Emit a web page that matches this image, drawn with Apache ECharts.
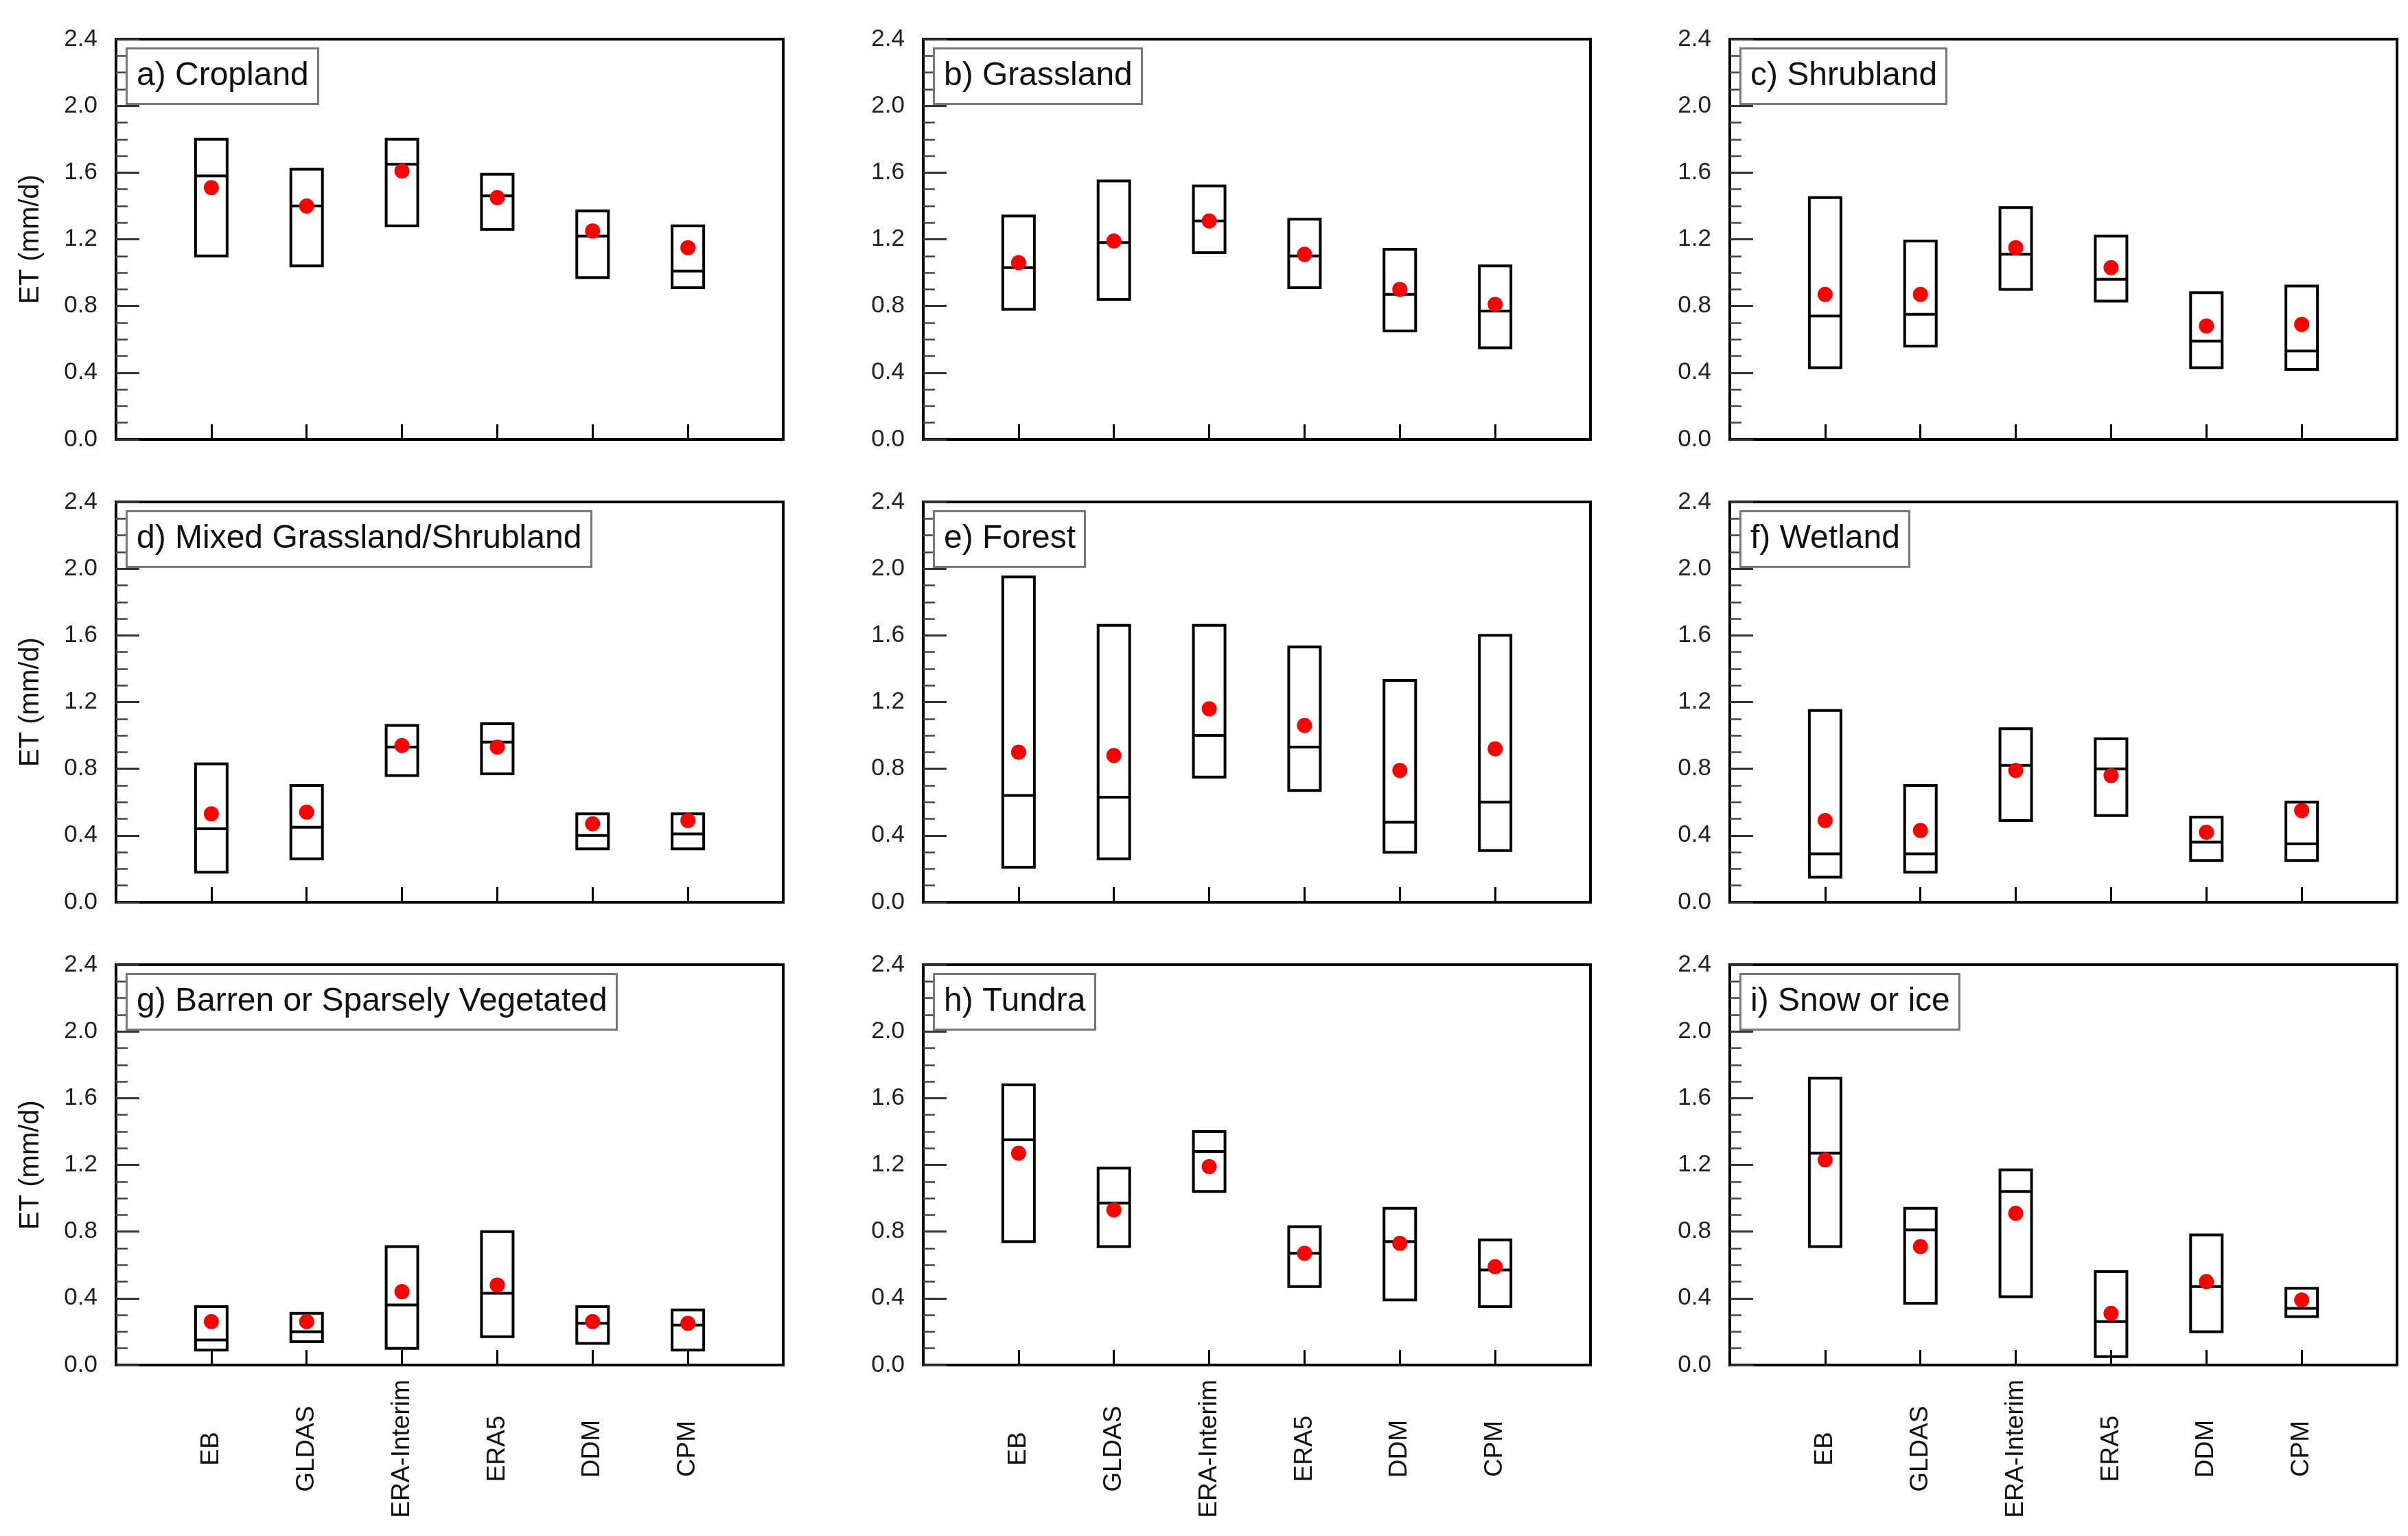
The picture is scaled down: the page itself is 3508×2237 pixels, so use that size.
<!DOCTYPE html>
<html>
<head>
<meta charset="utf-8">
<script src="https://cdn.jsdelivr.net/npm/echarts@6/dist/echarts.min.js"></script>
<style>
html,body{margin:0;padding:0;background:#fff;}
#chart{width:3508px;height:2237px;}
</style>
</head>
<body>
<div id="chart"></div>
<script>
// ---- Data ----
const categories = ['EB', 'GLDAS', 'ERA-Interim', 'ERA5', 'DDM', 'CPM'];
const panelTitles = ['a) Cropland', 'b) Grassland', 'c) Shrubland',
  'd) Mixed Grassland/Shrubland', 'e) Forest', 'f) Wetland',
  'g) Barren or Sparsely Vegetated', 'h) Tundra', 'i) Snow or ice'];
const yTicks = [0.0, 0.4, 0.8, 1.2, 1.6, 2.0, 2.4];

const croplandMax  = [1.80, 1.62, 1.80, 1.59, 1.37, 1.28];
const croplandMed  = [1.58, 1.40, 1.65, 1.46, 1.22, 1.01];
const croplandMin  = [1.10, 1.04, 1.28, 1.26, 0.97, 0.91];
const croplandMean = [1.51, 1.40, 1.61, 1.45, 1.25, 1.15];

const grasslandMax  = [1.34, 1.55, 1.52, 1.32, 1.14, 1.04];
const grasslandMed  = [1.03, 1.18, 1.31, 1.10, 0.87, 0.77];
const grasslandMin  = [0.78, 0.84, 1.12, 0.91, 0.65, 0.55];
const grasslandMean = [1.06, 1.19, 1.31, 1.11, 0.90, 0.81];

const shrublandMax  = [1.45, 1.19, 1.39, 1.22, 0.88, 0.92];
const shrublandMed  = [0.74, 0.75, 1.11, 0.96, 0.59, 0.53];
const shrublandMin  = [0.43, 0.56, 0.90, 0.83, 0.43, 0.42];
const shrublandMean = [0.87, 0.87, 1.15, 1.03, 0.68, 0.69];

const mixedMax  = [0.83, 0.70, 1.06, 1.07, 0.53, 0.53];
const mixedMed  = [0.44, 0.45, 0.93, 0.96, 0.40, 0.41];
const mixedMin  = [0.18, 0.26, 0.76, 0.77, 0.32, 0.32];
const mixedMean = [0.53, 0.54, 0.94, 0.93, 0.47, 0.49];

const forestMax  = [1.95, 1.66, 1.66, 1.53, 1.33, 1.60];
const forestMed  = [0.64, 0.63, 1.00, 0.93, 0.48, 0.60];
const forestMin  = [0.21, 0.26, 0.75, 0.67, 0.30, 0.31];
const forestMean = [0.90, 0.88, 1.16, 1.06, 0.79, 0.92];

const wetlandMax  = [1.15, 0.70, 1.04, 0.98, 0.51, 0.60];
const wetlandMed  = [0.29, 0.29, 0.82, 0.80, 0.36, 0.35];
const wetlandMin  = [0.15, 0.18, 0.49, 0.52, 0.25, 0.25];
const wetlandMean = [0.49, 0.43, 0.79, 0.76, 0.42, 0.55];

const barrenMax  = [0.35, 0.31, 0.71, 0.80, 0.35, 0.33];
const barrenMed  = [0.15, 0.20, 0.36, 0.43, 0.25, 0.24];
const barrenMin  = [0.09, 0.14, 0.10, 0.17, 0.13, 0.09];
const barrenMean = [0.26, 0.26, 0.44, 0.48, 0.26, 0.25];

const tundraMax  = [1.68, 1.18, 1.40, 0.83, 0.94, 0.75];
const tundraMed  = [1.35, 0.97, 1.28, 0.67, 0.74, 0.57];
const tundraMin  = [0.74, 0.71, 1.04, 0.47, 0.39, 0.35];
const tundraMean = [1.27, 0.93, 1.19, 0.67, 0.73, 0.59];

const snowMax  = [1.72, 0.94, 1.17, 0.56, 0.78, 0.46];
const snowMed  = [1.27, 0.81, 1.04, 0.26, 0.47, 0.34];
const snowMin  = [0.71, 0.37, 0.41, 0.05, 0.20, 0.29];
const snowMean = [1.23, 0.71, 0.91, 0.31, 0.50, 0.39];

const panels = [
  [croplandMin, croplandMed, croplandMax, croplandMean],
  [grasslandMin, grasslandMed, grasslandMax, grasslandMean],
  [shrublandMin, shrublandMed, shrublandMax, shrublandMean],
  [mixedMin, mixedMed, mixedMax, mixedMean],
  [forestMin, forestMed, forestMax, forestMean],
  [wetlandMin, wetlandMed, wetlandMax, wetlandMean],
  [barrenMin, barrenMed, barrenMax, barrenMean],
  [tundraMin, tundraMed, tundraMax, tundraMean],
  [snowMin, snowMed, snowMax, snowMean]
];

// ---- Layout ----
const colLefts = [169, 1345, 2520];
const rowTops = [57, 731, 1405];
const gridW = 972, gridH = 583;
const FONT = 'Liberation Sans, Arial, Helvetica, sans-serif';

const grids = [], xAxes = [], yAxes = [], series = [], titles = [], graphics = [];

function renderBox(params, api) {
  const x = api.value(0), lo = api.value(1), med = api.value(2), hi = api.value(3);
  const pLo = api.coord([x, lo]);
  const pHi = api.coord([x, hi]);
  const pMed = api.coord([x, med]);
  const hw = 23;
  return {
    type: 'group',
    children: [
      { type: 'rect', shape: { x: pLo[0] - hw, y: pHi[1], width: 2 * hw, height: pLo[1] - pHi[1] },
        style: { fill: 'rgba(0,0,0,0)', stroke: '#000', lineWidth: 4 } },
      { type: 'line', shape: { x1: pMed[0] - hw, y1: pMed[1], x2: pMed[0] + hw, y2: pMed[1] },
        style: { stroke: '#000', lineWidth: 4 } }
    ]
  };
}

for (let i = 0; i < 9; i++) {
  const r = Math.floor(i / 3), c = i % 3;
  const left = colLefts[c], top = rowTops[r];
  grids.push({ left: left, top: top, width: gridW, height: gridH, show: true,
    borderColor: '#000', borderWidth: 4, backgroundColor: 'rgba(0,0,0,0)' });
  xAxes.push({
    gridIndex: i, type: 'value', min: 0, max: 7, interval: 1,
    axisLine: { show: true, lineStyle: { color: '#000', width: 4 } },
    axisTick: { show: true, inside: true, length: 22, lineStyle: { color: '#000', width: 3 } },
    splitLine: { show: false },
    axisLabel: {
      show: r === 2, rotate: 90, align: 'center', verticalAlign: 'middle', margin: 122,
      fontSize: 37, fontFamily: FONT, color: '#111',
      formatter: function (v) { return categories[v - 1] || ''; }
    }
  });
  yAxes.push({
    gridIndex: i, type: 'value', min: 0, max: 2.4, interval: 0.4,
    axisLine: { show: true, lineStyle: { color: '#000', width: 4 } },
    axisTick: { show: true, inside: true, length: 34, lineStyle: { color: '#333', width: 3 } },
    minorTick: { show: true, splitNumber: 4, length: 17, lineStyle: { color: '#444', width: 2.5 } },
    splitLine: { show: false },
    minorSplitLine: { show: false },
    axisLabel: { fontSize: 35, fontFamily: FONT, color: '#222', margin: 27,
      formatter: function (v) { return v.toFixed(1); } }
  });
  const p = panels[i];
  const boxData = categories.map(function (_, k) { return [k + 1, p[0][k], p[1][k], p[2][k]]; });
  const meanData = categories.map(function (_, k) { return [k + 1, p[3][k]]; });
  series.push({
    type: 'custom', xAxisIndex: i, yAxisIndex: i, renderItem: renderBox,
    encode: { x: 0, y: [1, 2, 3] }, data: boxData, z: 2, silent: true
  });
  series.push({
    type: 'scatter', xAxisIndex: i, yAxisIndex: i, data: meanData,
    symbol: 'circle', symbolSize: 22, itemStyle: { color: '#ff0000', opacity: 1 }, z: 3, silent: true
  });
  titles.push({
    text: panelTitles[i], left: left + 15, top: top + 13,
    padding: [13, 14, 13, 15], borderColor: '#777', borderWidth: 3,
    backgroundColor: '#fff',
    textStyle: { fontSize: 48, fontWeight: 'normal', fontFamily: FONT, color: '#111', lineHeight: 56 }
  });
  if (c === 0) {
    graphics.push({
      type: 'text', x: 45, y: top + gridH / 2, rotation: Math.PI / 2,
      style: { text: 'ET (mm/d)', font: '40px ' + FONT, fill: '#111',
        textAlign: 'center', textVerticalAlign: 'middle' }
    });
  }
}

const chart = echarts.init(document.getElementById('chart'));
chart.setOption({
  animation: false,
  backgroundColor: '#fff',
  title: titles,
  grid: grids,
  xAxis: xAxes,
  yAxis: yAxes,
  series: series,
  graphic: graphics
});
</script>
</body>
</html>
